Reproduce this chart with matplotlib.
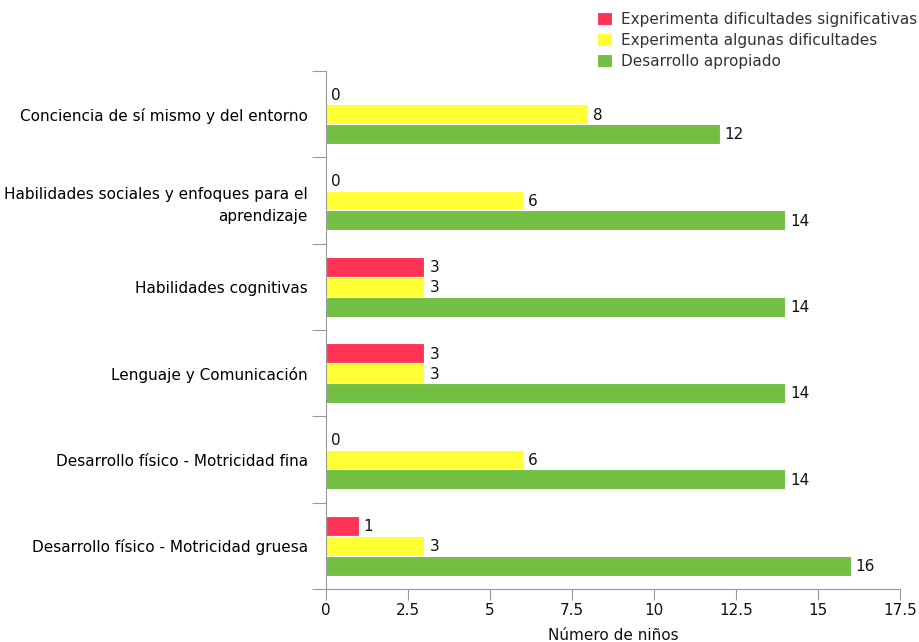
import matplotlib
matplotlib.use("Agg")
import matplotlib.pyplot as plt
import numpy as np

categories = [
    "Conciencia de sí mismo y del entorno",
    "Habilidades sociales y enfoques para el\naprendizaje",
    "Habilidades cognitivas",
    "Lenguaje y Comunicación",
    "Desarrollo físico - Motricidad fina",
    "Desarrollo físico - Motricidad gruesa",
]
series_names = [
    "Experimenta dificultades significativas",
    "Experimenta algunas dificultades",
    "Desarrollo apropiado",
]
significativas = [0, 0, 3, 3, 0, 1]
algunas = [8, 6, 3, 3, 6, 3]
apropiado = [12, 14, 14, 14, 14, 16]
colors = ["#FF3355", "#FFFF33", "#72BF44"]
x_ticks = [0, 2.5, 5, 7.5, 10, 12.5, 15, 17.5]

FS = 11
plt.rcParams.update({"font.family": "DejaVu Sans", "font.size": FS})

fig = plt.figure(figsize=(9.2, 6.42), dpi=100)
ax = fig.add_axes([326 / 920, 53 / 642, 574 / 920, 518 / 642])

y = np.arange(len(categories))
h = 0.23
for k, (vals, col, name) in enumerate(zip([significativas, algunas, apropiado], colors, series_names)):
    pos = y + (k - 1) * h
    ax.barh(pos, vals, height=h, color=col, edgecolor="white", linewidth=0.8, label=name)
    for p, v in zip(pos, vals):
        ax.text(v + 0.15, p + 0.01, f"{v}", va="center", ha="left", color="#111111", fontsize=FS)

ax.set_ylim(len(categories) - 0.5, -0.5)
ax.set_xlim(0, 17.5)
ax.set_xticks(x_ticks)
ax.set_xticklabels([f"{t:g}" for t in x_ticks])
ax.set_yticks(np.arange(-0.5, len(categories), 1.0))
ax.set_yticklabels([])
ax.set_yticks(y, minor=True)
ax.set_yticklabels(categories, minor=True, ha="right", linespacing=1.6)
ax.tick_params(axis="y", which="minor", length=0, pad=13)
ax.tick_params(axis="y", which="major", length=10, color="#999999")
ax.tick_params(axis="x", length=8, pad=2, color="#999999", labelcolor="#111111")
ax.tick_params(axis="y", labelcolor="#111111")

for s in ["top", "right"]:
    ax.spines[s].set_visible(False)
for s in ["left", "bottom"]:
    ax.spines[s].set_color("#999999")

ax.set_xlabel("Número de niños", color="#111111", labelpad=7)

fig.legend(loc="upper right", bbox_to_anchor=(1.012, 1.003), frameon=False,
           handlelength=1.0, handleheight=1.0, handletextpad=0.6,
           labelspacing=0.38, labelcolor="#333333", fontsize=FS)

fig.savefig("out.png", dpi=100)
